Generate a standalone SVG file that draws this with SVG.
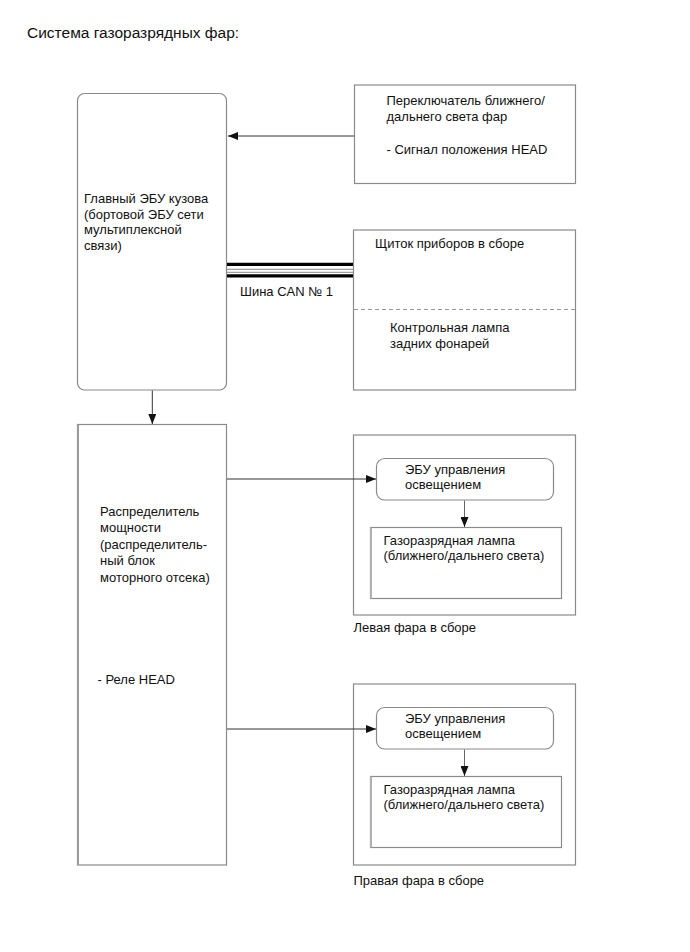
<svg xmlns="http://www.w3.org/2000/svg" width="690" height="952" viewBox="0 0 690 952">
<style>
text{font-family:"Liberation Sans",Arial,sans-serif;font-size:13px;fill:#111}
.title{font-size:15.5px}
.box{fill:#fff;stroke:#8a8a8a;stroke-width:1.2}
.conn{stroke:#333;stroke-width:1;fill:none}
.connG{stroke:#666;stroke-width:1;fill:none}
</style>
<defs>
<marker id="ah" viewBox="0 0 10 8" refX="10" refY="4" markerWidth="10" markerHeight="8" markerUnits="userSpaceOnUse" orient="auto">
<path d="M0,0 L10,4 L0,8 Z" fill="#111"/>
</marker>
</defs>
<rect width="690" height="952" fill="#fff"/>
<text class="title" x="27" y="38">Система газоразрядных фар:</text>

<g id="main-ecu">
<rect class="box" x="77.5" y="93.5" width="149" height="296.5" rx="7"/>
<text x="84" y="202.5">Главный ЭБУ кузова</text>
<text x="84" y="218.5">(бортовой ЭБУ сети</text>
<text x="84" y="234">мультиплексной</text>
<text x="84" y="249.5">связи)</text>
</g>

<g id="switch">
<rect class="box" x="354.5" y="85" width="221" height="98.5"/>
<text x="386.5" y="105">Переключатель ближнего/</text>
<text x="386.5" y="120.5">дальнего света фар</text>
<text x="386.5" y="154">- Сигнал положения HEAD</text>
</g>

<g id="can-label">
<text x="240" y="295.5">Шина CAN № 1</text>
</g>

<g id="cluster">
<rect class="box" x="353.5" y="230" width="222" height="160"/>
<line x1="354" y1="309.5" x2="575" y2="309.5" stroke="#999" stroke-width="1" stroke-dasharray="4,3"/>
<text x="375" y="247.5">Щиток приборов в сборе</text>
<text x="390" y="331.5">Контрольная лампа</text>
<text x="390" y="347.5">задних фонарей</text>
</g>

<g id="power-dist">
<rect class="box" x="77.5" y="424.5" width="149" height="440.5"/>
<line x1="78" y1="424.5" x2="78" y2="865" stroke="#9a9a9a" stroke-width="2"/>
<text x="100" y="515.5">Распределитель</text>
<text x="100" y="532">мощности</text>
<text x="100" y="548.5">(распределитель-</text>
<text x="100" y="565">ный блок</text>
<text x="100" y="581.5">моторного отсека)</text>
<text x="97.5" y="684">- Реле HEAD</text>
</g>

<g id="left-headlamp">
<rect class="box" x="353.5" y="435" width="222" height="180"/>
<rect class="box" x="376.5" y="458.5" width="177" height="41.5" rx="8"/>
<text x="405" y="473.5">ЭБУ управления</text>
<text x="405" y="488.5">освещением</text>
<rect class="box" x="370.5" y="527.5" width="191" height="71"/>
<line x1="371" y1="527.5" x2="371" y2="598.5" stroke="#b0b0b0" stroke-width="2"/>
<text x="383.5" y="545">Газоразрядная лампа</text>
<text x="383.5" y="560">(ближнего/дальнего света)</text>
<text x="353.5" y="631.5">Левая фара в сборе</text>
</g>

<g id="right-headlamp">
<rect class="box" x="353.5" y="684" width="222" height="181"/>
<rect class="box" x="376.5" y="707.5" width="177" height="41.5" rx="8"/>
<text x="405" y="722.5">ЭБУ управления</text>
<text x="405" y="737.5">освещением</text>
<rect class="box" x="370.5" y="776.5" width="191" height="71"/>
<line x1="371" y1="776.5" x2="371" y2="847.5" stroke="#b0b0b0" stroke-width="2"/>
<text x="383.5" y="794">Газоразрядная лампа</text>
<text x="383.5" y="809">(ближнего/дальнего света)</text>
<text x="353.5" y="885">Правая фара в сборе</text>
</g>

<g id="connectors">
<line class="conn" x1="354" y1="136" x2="228" y2="136" marker-end="url(#ah)"/>
<line x1="227" y1="264.3" x2="353" y2="264.3" stroke="#000" stroke-width="3.2"/>
<line x1="227" y1="269.3" x2="353" y2="269.3" stroke="#888" stroke-width="1"/>
<line x1="227" y1="272.3" x2="353" y2="272.3" stroke="#888" stroke-width="1"/>
<line x1="227" y1="275.8" x2="353" y2="275.8" stroke="#000" stroke-width="3.2"/>
<line class="conn" x1="152.3" y1="390.5" x2="152.3" y2="424" marker-end="url(#ah)"/>
<line class="conn" x1="227" y1="479" x2="376" y2="479" marker-end="url(#ah)"/>
<line class="conn" x1="227" y1="729" x2="376" y2="729" marker-end="url(#ah)"/>
<line class="connG" x1="464.5" y1="500.5" x2="464.5" y2="527" marker-end="url(#ah)"/>
<line class="connG" x1="464.5" y1="749.5" x2="464.5" y2="776" marker-end="url(#ah)"/>
</g>
</svg>
